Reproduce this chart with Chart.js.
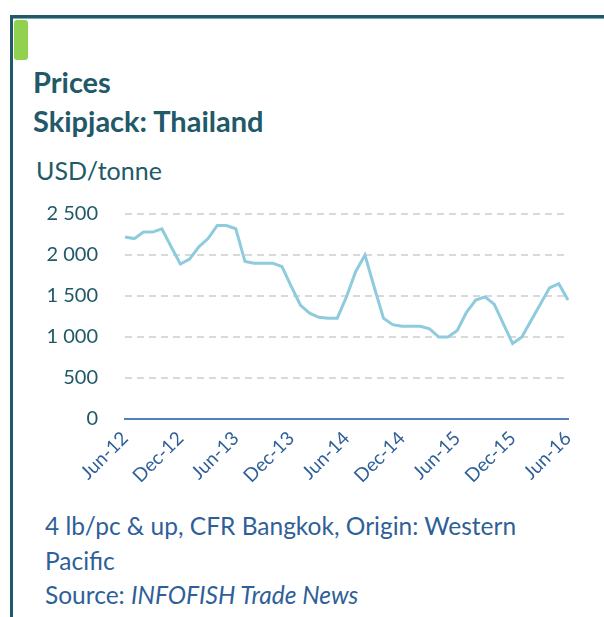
<!DOCTYPE html>
<html>
<head>
<meta charset="utf-8">
<script src="https://cdn.jsdelivr.net/npm/chart.js@4/dist/chart.umd.min.js"></script>
<style>
  html, body { margin: 0; padding: 0; background: #ffffff; }
  body { width: 604px; height: 617px; position: relative; overflow: hidden; font-family: Lato, "Open Sans", sans-serif; }
  #frame { position: absolute; left: 10px; top: 15px; width: 600px; height: 620px;
           border-top: 3px solid #215968; border-left: 3px solid #215968; box-sizing: border-box; }
  #frameShade { position: absolute; left: 13px; top: 18px; width: 600px; height: 1px; background: #7fa7b1; }
  #tab { position: absolute; left: 14px; top: 20px; width: 14px; height: 40px; background: #92d050; border-radius: 3px; }
  .title { position: absolute; left: 33px; font-weight: bold; font-size: 29px; line-height: 29px; color: #215968; white-space: nowrap; }
  #unit { position: absolute; left: 36px; top: 158px; font-size: 25px; line-height: 25px; color: #215968; white-space: nowrap; }
  #foot { position: absolute; left: 45px; top: 509px; font-size: 24.5px; line-height: 34.5px; color: #2f5f98; white-space: nowrap; }
  #cv { position: absolute; left: 0; top: 175px; }
</style>
</head>
<body>
<div id="frame"></div>
<div id="frameShade"></div>
<div id="tab"></div>
<div class="title" style="top:67px">Prices</div>
<div class="title" style="top:106px">Skipjack: Thailand</div>
<div id="unit">USD/tonne</div>
<div id="foot">4 lb/pc &amp; up, CFR Bangkok, Origin: Western<br>Pacific<br>Source: <i>INFOFISH Trade News</i></div>
<canvas id="cv" width="604" height="355"></canvas>
<script>
const months = [
  "Jun-12","Jul-12","Aug-12","Sep-12","Oct-12","Nov-12","Dec-12",
  "Jan-13","Feb-13","Mar-13","Apr-13","May-13","Jun-13","Jul-13","Aug-13","Sep-13","Oct-13","Nov-13","Dec-13",
  "Jan-14","Feb-14","Mar-14","Apr-14","May-14","Jun-14","Jul-14","Aug-14","Sep-14","Oct-14","Nov-14","Dec-14",
  "Jan-15","Feb-15","Mar-15","Apr-15","May-15","Jun-15","Jul-15","Aug-15","Sep-15","Oct-15","Nov-15","Dec-15",
  "Jan-16","Feb-16","Mar-16","Apr-16","May-16","Jun-16"
];
const shownMonthLabels = ["Jun-12","Dec-12","Jun-13","Dec-13","Jun-14","Dec-14","Jun-15","Dec-15","Jun-16"];
const skipjackPrice = [
  2220, 2200, 2280, 2280, 2320, 2100, 1890,
  1950, 2100, 2200, 2360, 2360, 2320, 1920, 1900, 1900, 1900, 1860, 1620,
  1390, 1290, 1240, 1230, 1230, 1490, 1800, 2000, 1610, 1230, 1150, 1130,
  1130, 1130, 1100, 1000, 1000, 1080, 1300, 1450, 1490, 1400, 1160, 920,
  1000, 1200, 1400, 1600, 1650, 1450
];
const yTickLabels = ["0", "500", "1 000", "1 500", "2 000", "2 500"];

new Chart(document.getElementById('cv'), {
  type: 'line',
  data: {
    labels: months,
    datasets: [{
      data: skipjackPrice,
      borderColor: '#8ecbdd',
      borderWidth: 3,
      pointRadius: 0,
      tension: 0,
      fill: false
    }]
  },
  options: {
    responsive: false,
    devicePixelRatio: 1,
    animation: false,
    layout: { padding: { left: 0, top: 1, right: 36, bottom: 0 } },
    plugins: { legend: { display: false }, tooltip: { enabled: false } },
    scales: {
      x: {
        grid: { display: false, drawTicks: false },
        border: { display: true, color: '#4f81bd', width: 2 },
        ticks: {
          autoSkip: false,
          minRotation: 45, maxRotation: 45,
          padding: 8,
          color: '#2f5f98',
          font: { family: 'Lato', size: 19 },
          callback: function (v, i) {
            const l = months[i];
            return shownMonthLabels.includes(l) ? l : '';
          }
        },
        afterFit: function (s) { s.height = 111; }
      },
      y: {
        min: 0, max: 2500,
        grid: {
          drawTicks: false,
          color: function (c) { return c.tick && c.tick.value === 0 ? 'rgba(0,0,0,0)' : '#d9d9d9'; },
          lineWidth: 2
        },
        border: { display: false, dash: [7, 5] },
        ticks: {
          stepSize: 500,
          padding: 27,
          color: '#215968',
          font: { family: 'Lato', size: 20 },
          callback: function (v) { return yTickLabels[v / 500]; }
        },
        afterFit: function (s) { s.width = 125; }
      }
    }
  }
});
</script>
</body>
</html>
